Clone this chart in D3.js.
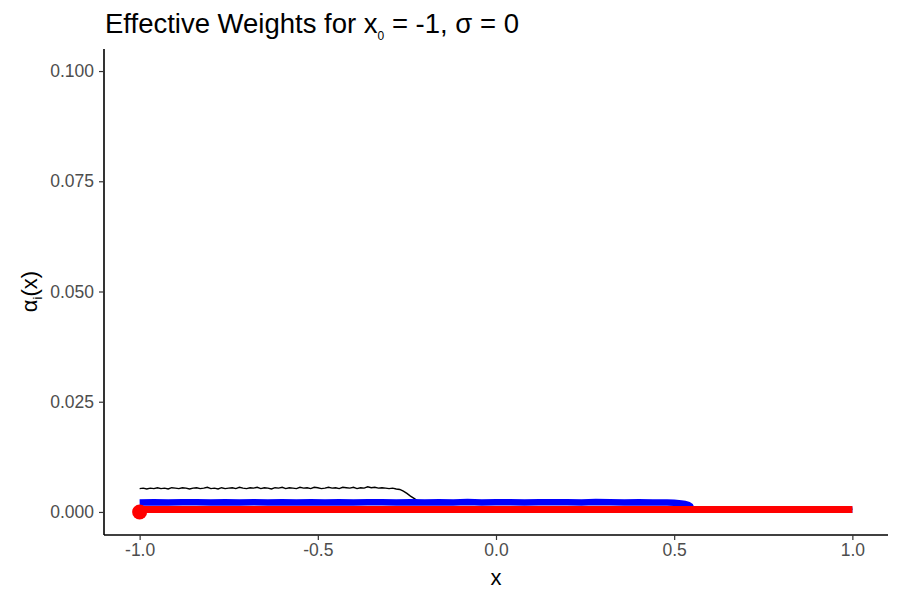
<!DOCTYPE html>
<html><head><meta charset="utf-8">
<script src="https://cdn.jsdelivr.net/npm/d3@7"></script>
<style>
body{margin:0;background:#fff;}
text{font-family:"Liberation Sans",Arial,sans-serif;}
</style></head>
<body><svg id="c" width="900" height="600"></svg>
<script>
// ---- data ----
const xTicks = [-1.0, -0.5, 0.0, 0.5, 1.0];
const xTickLabels = ["-1.0", "-0.5", "0.0", "0.5", "1.0"];
const yTicks = [0, 0.025, 0.05, 0.075, 0.1];
const yTickLabels = ["0.000", "0.025", "0.050", "0.075", "0.100"];

const blackX = [-1.00,-0.99,-0.98,-0.97,-0.96,-0.95,-0.94,-0.93,-0.92,-0.91,-0.90,-0.89,-0.88,-0.87,-0.86,-0.85,-0.84,-0.83,-0.82,-0.81,-0.80,-0.79,-0.78,-0.77,-0.76,-0.75,-0.74,-0.73,-0.72,-0.71,-0.70,-0.69,-0.68,-0.67,-0.66,-0.65,-0.64,-0.63,-0.62,-0.61,-0.60,-0.59,-0.58,-0.57,-0.56,-0.55,-0.54,-0.53,-0.52,-0.51,-0.50,-0.49,-0.48,-0.47,-0.46,-0.45,-0.44,-0.43,-0.42,-0.41,-0.40,-0.39,-0.38,-0.37,-0.36,-0.35,-0.34,-0.33,-0.32,-0.31,-0.30,-0.29,-0.28,-0.27,-0.26,-0.25,-0.24,-0.23,-0.22,-0.20,0.50,0.54,1.00];
const blackY = [0.0053,0.0054,0.0052,0.0054,0.0053,0.0055,0.0053,0.0054,0.0052,0.0055,0.0054,0.0053,0.0055,0.0054,0.0052,0.0054,0.0055,0.0053,0.0054,0.0056,0.0053,0.0054,0.0052,0.0055,0.0053,0.0054,0.0055,0.0053,0.0056,0.0054,0.0053,0.0055,0.0054,0.0056,0.0053,0.0055,0.0054,0.0052,0.0055,0.0054,0.0056,0.0053,0.0055,0.0054,0.0053,0.0056,0.0054,0.0055,0.0053,0.0056,0.0055,0.0053,0.0054,0.0056,0.0054,0.0055,0.0053,0.0056,0.0055,0.0054,0.0056,0.0053,0.0055,0.0054,0.0057,0.0055,0.0056,0.0054,0.0055,0.0054,0.0053,0.0054,0.0052,0.0051,0.0047,0.0042,0.0036,0.0031,0.0025,0.0021,0.0021,0.0006,0.0006];

const blueX = [-1.00,-0.96,-0.92,-0.88,-0.84,-0.80,-0.76,-0.72,-0.68,-0.64,-0.60,-0.56,-0.52,-0.48,-0.44,-0.40,-0.36,-0.32,-0.28,-0.24,-0.20,-0.16,-0.12,-0.08,-0.04,0.00,0.04,0.08,0.12,0.16,0.20,0.24,0.28,0.32,0.36,0.40,0.44,0.48,0.50,0.52,0.53,0.54,0.545,0.55,0.60,1.00];
const blueY = [0.00215,0.00220,0.00212,0.00218,0.00222,0.00214,0.00219,0.00216,0.00221,0.00213,0.00220,0.00217,0.00222,0.00215,0.00219,0.00214,0.00221,0.00218,0.00216,0.00222,0.00215,0.00220,0.00217,0.00223,0.00214,0.00219,0.00221,0.00216,0.00222,0.00218,0.00220,0.00215,0.00223,0.00219,0.00217,0.00221,0.00216,0.00212,0.00208,0.00195,0.00180,0.00160,0.00130,0.00048,0.00048,0.00048];

const redX = [-1.00,-0.75,-0.50,-0.25,0.00,0.25,0.50,0.75,1.00];
const redY = [0.00057,0.00058,0.00057,0.00058,0.00057,0.00058,0.00057,0.00058,0.00057];

const pointX = [-1.0];
const pointY = [0.0];

// ---- layout ----
const svg = d3.select("#c");
const L = 104, R = 888, T = 49, B = 534;
const x = d3.scaleLinear().domain([-1.1, 1.1]).range([L, R]);
const y = d3.scaleLinear().domain([-0.005, 0.105]).range([B, T]);

const line = d3.line().x(d => x(d[0])).y(d => y(d[1]));
const g = svg.append("g");

g.append("path").datum(d3.zip(blackX, blackY)).attr("d", line)
  .attr("fill","none").attr("stroke","#000").attr("stroke-width",1.4);
g.append("path").datum(d3.zip(blueX, blueY)).attr("d", line)
  .attr("fill","none").attr("stroke","#0000ff").attr("stroke-width",6.5);
g.append("path").datum(d3.zip(redX, redY)).attr("d", line)
  .attr("fill","none").attr("stroke","#ff0000").attr("stroke-width",7);
g.selectAll("circle.pt").data(d3.zip(pointX, pointY)).enter().append("circle")
  .attr("cx", d => x(d[0])).attr("cy", d => y(d[1])).attr("r", 7.5).attr("fill","#ff0000");

// axes
const xAxis = d3.axisBottom(x).tickValues(xTicks).tickFormat((d,i) => xTickLabels[i]).tickSize(5).tickPadding(4);
const yAxis = d3.axisLeft(y).tickValues(yTicks).tickFormat((d,i) => yTickLabels[i]).tickSize(5).tickPadding(5);
const gx = svg.append("g").attr("transform", `translate(0,${B+1})`).call(xAxis);
const gy = svg.append("g").attr("transform", `translate(${L},0)`).call(yAxis);
gx.select(".domain").attr("d", `M${L},0H${R}`).attr("stroke","#000").attr("stroke-width",1.6);
gy.select(".domain").attr("d", `M0,${T}V${B+1}`).attr("stroke","#000").attr("stroke-width",1.6);
[gx, gy].forEach(a => {
  a.selectAll(".tick line").attr("stroke","#333").attr("stroke-width",1.2);
  a.selectAll(".tick text").attr("fill","#4d4d4d").style("font-size","17.5px").style("font-family","Liberation Sans, Arial, sans-serif");
});

// title
const title = svg.append("text").attr("x", 105).attr("y", 33).style("font-size","27.5px").attr("fill","#000");
title.append("tspan").text("Effective Weights for x");
title.append("tspan").text("0").style("font-size","12px").attr("dy", 7);
title.append("tspan").text(" = -1, σ = 0").attr("dy", -7);

// x label
svg.append("text").attr("x", (L+R)/2).attr("y", 585).attr("text-anchor","middle").style("font-size","22px").text("x");

// y label
const yl = svg.append("text").attr("transform", `translate(37,${(T+B)/2}) rotate(-90)`).attr("text-anchor","middle").style("font-size","22px");
yl.append("tspan").text("α");
yl.append("tspan").text("i").style("font-size","13px").attr("dy", 5);
yl.append("tspan").text("(x)").attr("dy", -5);
</script></body></html>
